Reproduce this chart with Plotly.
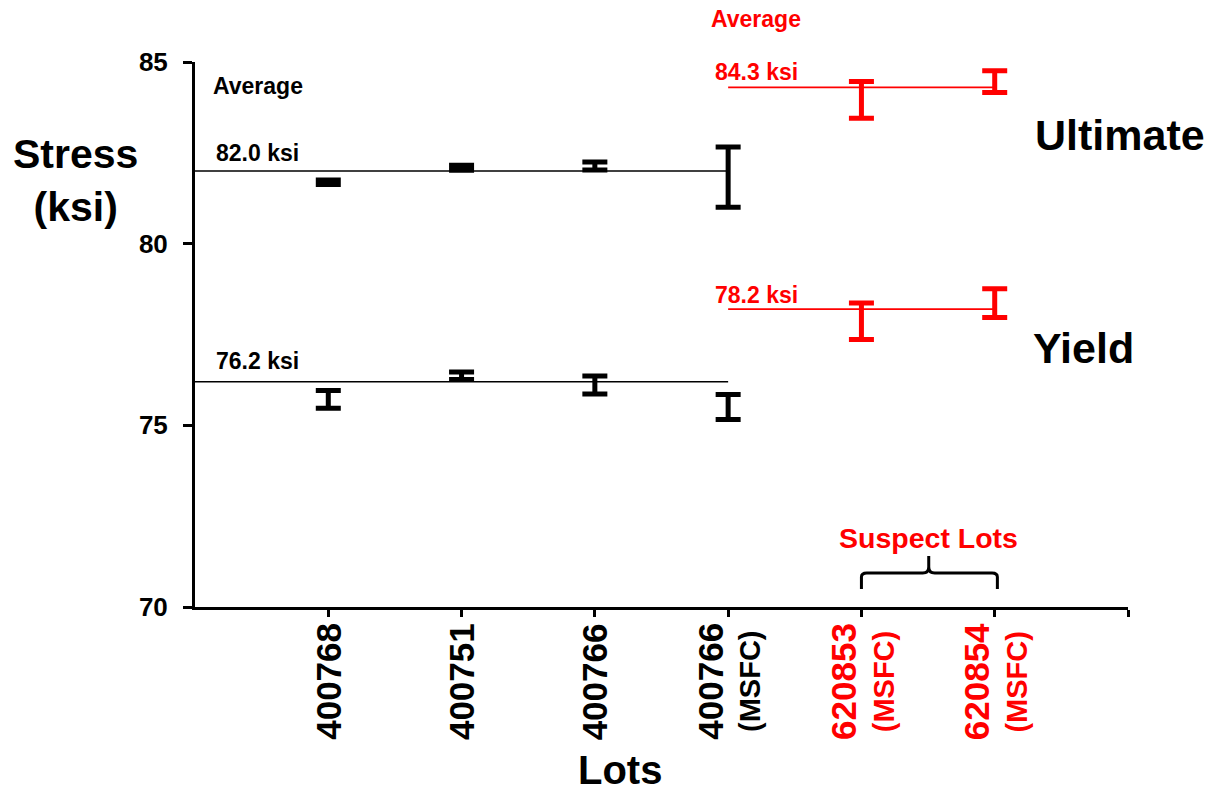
import plotly.graph_objects as go

# ---------------- data ----------------
lots = ["400768", "400751", "400766", "400766", "620853", "620854"]
lot_sub = ["", "", "", "(MSFC)", "(MSFC)", "(MSFC)"]
lot_colors = ["#000000", "#000000", "#000000", "#000000", "#FF0000", "#FF0000"]
lot_pos = [1, 2, 3, 4, 5, 6]

ult_low = [81.63, 82.02, 82.03, 81.0, 83.45, 84.16]
ult_high = [81.75, 82.16, 82.25, 82.66, 84.46, 84.76]
yld_low = [75.47, 76.26, 75.86, 75.16, 77.36, 77.97]
yld_high = [75.96, 76.47, 76.36, 75.85, 78.37, 78.76]

avg_ult_std, avg_yld_std = 82.0, 76.2      # lots 1-4
avg_ult_sus, avg_yld_sus = 84.3, 78.2      # suspect lots 5-6

y_ticks = [70, 75, 80, 85]

RED = "#FF0000"
FONT = "Liberation Sans, Arial, sans-serif"

# ---------------- layout geometry (pixels) ----------------
W, H = 1210, 792
L, R, T, B = 195, 82, 62, 185
PW, PH = W - L - R, H - T - B


def px(x):
    return (x - L) / PW


def py(y):
    return (H - B - y) / PH


fig = go.Figure()

# average lines
fig.add_trace(go.Scatter(x=[0, 4], y=[avg_ult_std, avg_ult_std], mode="lines",
                         line=dict(color="#000000", width=1.6), hoverinfo="skip"))
fig.add_trace(go.Scatter(x=[0, 4], y=[avg_yld_std, avg_yld_std], mode="lines",
                         line=dict(color="#000000", width=1.6), hoverinfo="skip"))
fig.add_trace(go.Scatter(x=[4, 6], y=[avg_ult_sus, avg_ult_sus], mode="lines",
                         line=dict(color=RED, width=1.8), hoverinfo="skip"))
fig.add_trace(go.Scatter(x=[4, 6], y=[avg_yld_sus, avg_yld_sus], mode="lines",
                         line=dict(color=RED, width=1.8), hoverinfo="skip"))


def add_range(idx, lows, highs, color):
    xs = [lot_pos[i] for i in idx]
    mids = [(lows[i] + highs[i]) / 2 for i in idx]
    half = [(highs[i] - lows[i]) / 2 for i in idx]
    fig.add_trace(go.Scatter(
        x=xs, y=mids, mode="markers",
        marker=dict(size=1, color="rgba(0,0,0,0)"),
        error_y=dict(type="data", array=half, symmetric=True,
                     color=color, thickness=5, width=12.5),
        hoverinfo="skip"))


std = [0, 1, 2, 3]
sus = [4, 5]
add_range(std, ult_low, ult_high, "#000000")
add_range(std, yld_low, yld_high, "#000000")
add_range(sus, ult_low, ult_high, RED)
add_range(sus, yld_low, yld_high, RED)

ann = []


def text(x, y, s, size, color="#000000", xanchor="left", **kw):
    ann.append(dict(x=px(x), y=py(y), xref="paper", yref="paper", text=s,
                    showarrow=False, xanchor=xanchor, yanchor="middle",
                    font=dict(family=FONT, size=size, color=color, weight="bold"), **kw))


text(211, 86, "Average", 23)
text(214, 153, f"{avg_ult_std:.1f} ksi", 23)
text(214, 361, f"{avg_yld_std:.1f} ksi", 23)
text(709, 19, "Average", 23, RED)
text(713, 72, f"{avg_ult_sus:.1f} ksi", 23, RED)
text(713, 295, f"{avg_yld_sus:.1f} ksi", 23, RED)
text(1033, 135, "Ultimate", 43)
text(1031, 348, "Yield", 43)
text(928, 538, "Suspect Lots", 28.5, RED, xanchor="center")
text(76, 181, "Stress<br>(ksi)", 41, xanchor="center")
text(620, 770, "Lots", 40, xanchor="center")

# category labels (rotated)
for pos, lot, sub, col in zip(lot_pos, lots, lot_sub, lot_colors):
    if sub:
        s = f"<span style='font-size:35px'>{lot}</span><br>{sub}"
    else:
        s = f"<span style='font-size:35px'>{lot}</span>"
    ann.append(dict(x=pos, y=py(621), xref="x", yref="paper", text=s,
                    showarrow=False, xanchor="center", yanchor="top",
                    textangle=-90, align="center",
                    font=dict(family=FONT, size=29, color=col, weight="bold")))


def yb(v):
    return py(v)


# brace under suspect lots
brace = (f"M 5,{yb(589)} L 5,{yb(577)} Q 5,{yb(573)} 5.04,{yb(573)} "
         f"L 5.46,{yb(573)} Q 5.505,{yb(573)} 5.505,{yb(567)} L 5.505,{yb(556)} "
         f"M 5.505,{yb(567)} Q 5.505,{yb(573)} 5.55,{yb(573)} "
         f"L 5.98,{yb(573)} Q 6.02,{yb(573)} 6.02,{yb(577)} L 6.02,{yb(589)}")

fig.update_layout(
    width=W, height=H,
    margin=dict(l=L, r=R, t=T, b=B),
    paper_bgcolor="white", plot_bgcolor="white",
    showlegend=False,
    annotations=ann,
    shapes=[dict(type="path", path=brace, xref="x", yref="paper",
                 line=dict(color="#000000", width=3))],
    xaxis=dict(range=[0, 7], tickvals=[1, 2, 3, 4, 5, 6, 7], showticklabels=False,
               ticks="outside", ticklen=7, tickwidth=2.5, tickcolor="#000000",
               showline=True, linecolor="#000000", linewidth=3,
               showgrid=False, zeroline=False, fixedrange=True),
    yaxis=dict(range=[70, 85], tickvals=y_ticks, ticktext=[str(v) for v in y_ticks],
               ticks="outside", ticklen=9, tickwidth=2.5, tickcolor="#000000",
               ticklabelstandoff=10,
               tickfont=dict(family=FONT, size=26, color="#000000", weight="bold"),
               showline=True, linecolor="#000000", linewidth=3,
               showgrid=False, zeroline=False, fixedrange=True),
)

fig.write_html("out.html",
               config={"displayModeBar": False},
               post_script="document.body.style.margin='0';document.body.style.overflow='hidden';")
